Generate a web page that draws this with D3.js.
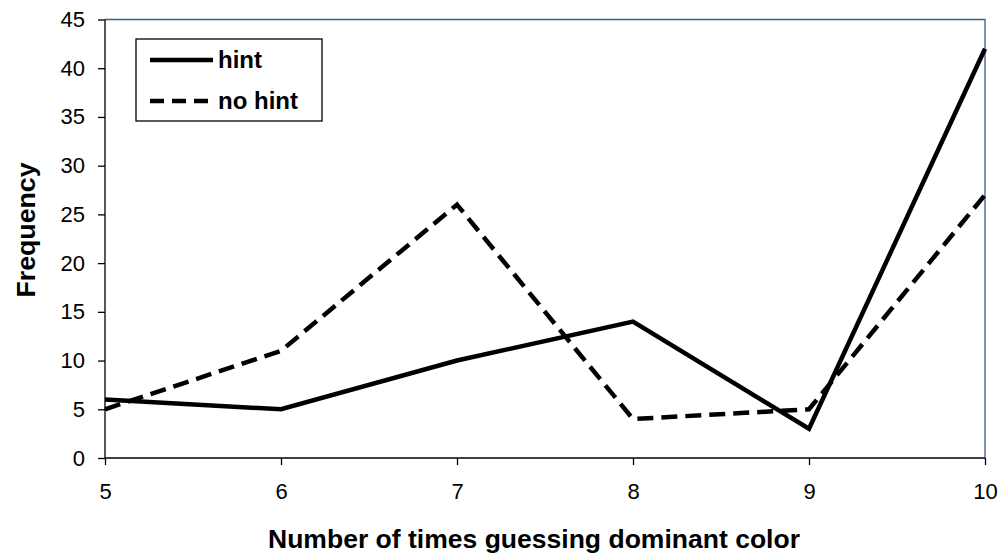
<!DOCTYPE html>
<html><head><meta charset="utf-8">
<script src="https://cdn.jsdelivr.net/npm/d3@7"></script>
<style>body{margin:0;background:#fff;} svg{display:block;}</style>
</head><body><svg id="c" width="998" height="554"></svg>
<script>
const xValues = [5, 6, 7, 8, 9, 10];
const hintValues = [6, 5, 10, 14, 3, 42];
const noHintValues = [5, 11, 26, 4, 5, 27];
const yTicks = [0, 5, 10, 15, 20, 25, 30, 35, 40, 45];
const seriesNames = ["hint", "no hint"];

const svg = d3.select("#c");
const L = 105, R = 985, T = 19.5, B = 458;
const x = d3.scaleLinear().domain([5, 10]).range([L, R]);
const y = d3.scaleLinear().domain([0, 45]).range([B, T]);
const font = "'Liberation Sans', Arial, sans-serif";

// top & right border
svg.append("path").attr("d", `M${L},${T}H${R}V${B}`).attr("fill", "none")
  .attr("stroke", "#3f5a8c").attr("stroke-width", 1.3);

const ya = svg.append("g").attr("transform", `translate(${L},0)`)
  .call(d3.axisLeft(y).tickValues(yTicks).tickSize(7).tickPadding(13).tickFormat(d3.format("d")));
const xa = svg.append("g").attr("transform", `translate(0,${B})`)
  .call(d3.axisBottom(x).tickValues(xValues).tickSize(7).tickPadding(18).tickFormat(d3.format("d")));
[ya, xa].forEach(a => {
  a.select(".domain").attr("stroke", "#000").attr("stroke-width", 1.3);
  a.selectAll(".tick line").attr("stroke", "#000").attr("stroke-width", 1.3);
  a.selectAll("text").attr("font-family", font).attr("font-size", 22).attr("fill", "#000");
});
ya.select(".domain").attr("d", `M-0,${T}V${B}`);
xa.select(".domain").attr("d", `M${L},0H${R}`);

const line = d3.line().x((d, i) => x(xValues[i])).y(d => y(d));
svg.append("path").datum(hintValues).attr("d", line).attr("fill", "none")
  .attr("stroke", "#000").attr("stroke-width", 4.5).attr("stroke-linejoin", "miter");
svg.append("path").datum(noHintValues).attr("d", line).attr("fill", "none")
  .attr("stroke", "#000").attr("stroke-width", 4.5).attr("stroke-dasharray", "16,8");

// legend
const lg = svg.append("g");
lg.append("rect").attr("x", 136).attr("y", 39).attr("width", 186).attr("height", 82)
  .attr("fill", "#fff").attr("stroke", "#000").attr("stroke-width", 1.3);
seriesNames.forEach((n, i) => {
  const yy = 60 + i * 41;
  lg.append("line").attr("x1", 150).attr("x2", 213).attr("y1", yy).attr("y2", yy)
    .attr("stroke", "#000").attr("stroke-width", 4.5)
    .attr("stroke-dasharray", i === 1 ? "14,8" : null);
  lg.append("text").attr("x", 218).attr("y", yy + 8).text(n)
    .attr("font-family", font).attr("font-size", 24).attr("font-weight", "bold");
});

svg.append("text").attr("x", 534).attr("y", 548).attr("text-anchor", "middle")
  .attr("font-family", font).attr("font-size", 25).attr("font-weight", "bold")
  .attr("textLength", 532).attr("lengthAdjust", "spacingAndGlyphs")
  .text("Number of times guessing dominant color");
svg.append("text").attr("transform", "translate(35,230) rotate(-90)").attr("text-anchor", "middle")
  .attr("font-family", font).attr("font-size", 25).attr("font-weight", "bold")
  .attr("textLength", 135).attr("lengthAdjust", "spacingAndGlyphs")
  .text("Frequency");
</script></body></html>
